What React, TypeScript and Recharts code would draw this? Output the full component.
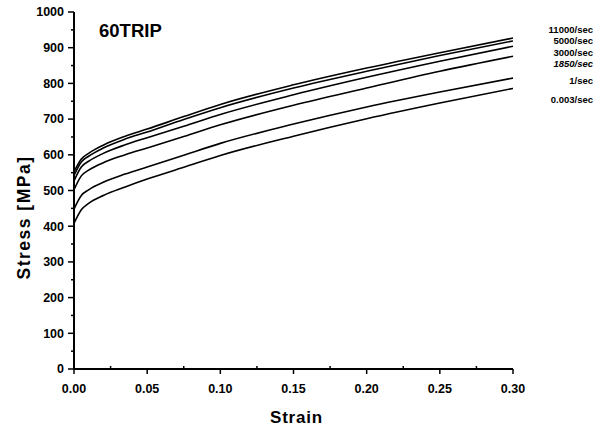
import { Label, Line, LineChart, XAxis, YAxis } from "recharts";

const strain = [0, 0.005, 0.01, 0.02, 0.035, 0.05, 0.075, 0.1, 0.15, 0.2, 0.25, 0.3];

const rate11000 = [552, 588, 604, 627, 652, 672, 707, 741, 796, 843, 886, 927];
const rate5000 = [542, 580, 596, 619, 644, 664, 699, 732, 787, 834, 878, 919];
const rate3000 = [527, 566, 582, 604, 628, 648, 680, 713, 768, 817, 862, 904];
const rate1850 = [502, 541, 557, 578, 600, 619, 651, 684, 739, 787, 834, 876];
const rate1 = [448, 486, 502, 523, 546, 566, 599, 632, 686, 734, 776, 815];
const rate0003 = [408, 446, 464, 486, 510, 532, 565, 598, 652, 701, 745, 786];

const seriesNames = ["11000/sec", "5000/sec", "3000/sec", "1850/sec", "1/sec", "0.003/sec"];
const seriesValues = [rate11000, rate5000, rate3000, rate1850, rate1, rate0003];

const xTicks = [0, 0.025, 0.05, 0.075, 0.1, 0.125, 0.15, 0.175, 0.2, 0.225, 0.25, 0.275, 0.3];
const yTicks = [
  0, 50, 100, 150, 200, 250, 300, 350, 400, 450, 500, 550, 600, 650, 700, 750, 800, 850, 900, 950,
  1000,
];

// vertical nudge of each end label from its line end, px
const LABEL_DY = [-8.5, 0, 6, 7, 3, 11];

const FONT = "'Liberation Sans', Arial, Helvetica, sans-serif";
const Y_TICK_SIZE = 6;
const Y_TICK_MARGIN = 4;
const X_TICK_SIZE = 5;
const X_TICK_MARGIN = 10;

const data = strain.map((s, i) => {
  const row: Record<string, number> = { strain: s };
  seriesNames.forEach((n, k) => {
    row[n] = seriesValues[k][i];
  });
  return row;
});

function YTick(props: any) {
  const { x, y, payload } = props;
  const v = payload.value as number;
  const major = v % 100 === 0;
  const ax = x + Y_TICK_SIZE + Y_TICK_MARGIN;
  return (
    <g>
      <line x1={ax - (major ? 6 : 3)} x2={ax} y1={y} y2={y} stroke="#000" strokeWidth={1.5} />
      {major && (
        <text
          x={x}
          y={y}
          dy="0.35em"
          textAnchor="end"
          fontFamily={FONT}
          fontWeight={700}
          fontSize={12.5}
          fill="#000"
        >
          {v}
        </text>
      )}
    </g>
  );
}

function XTick(props: any) {
  const { x, y, payload } = props;
  const v = payload.value as number;
  const major = Math.round(v * 1000) % 50 === 0;
  const ay = y - X_TICK_SIZE - X_TICK_MARGIN;
  return (
    <g>
      <line
        x1={x}
        x2={x}
        y1={ay}
        y2={major ? ay + 5 : ay - 3}
        stroke="#000"
        strokeWidth={1.5}
      />
      {major && (
        <text
          x={x}
          y={y}
          dy="0.71em"
          textAnchor="middle"
          fontFamily={FONT}
          fontWeight={700}
          fontSize={12.5}
          fill="#000"
        >
          {v.toFixed(2)}
        </text>
      )}
    </g>
  );
}

function endLabel(k: number) {
  return (props: any) => {
    const { y, index } = props;
    if (index !== strain.length - 1) return null;
    return (
      <text
        key={seriesNames[k]}
        x={593}
        y={y + LABEL_DY[k]}
        dy="0.35em"
        textAnchor="end"
        fontFamily={FONT}
        fontWeight={700}
        fontSize={9.5}
        fontStyle={k === 3 ? "italic" : "normal"}
        fill="#000"
      >
        {seriesNames[k]}
      </text>
    );
  };
}

export default function App() {
  return (
    <div style={{ position: "absolute", left: 0, top: 0, width: 595, height: 430, background: "#fff" }}>
      <div
        style={{
          position: "absolute",
          left: 99,
          top: 21,
          fontFamily: FONT,
          fontWeight: 700,
          fontSize: 18.5,
          lineHeight: "20px",
          color: "#000",
        }}
      >
        60TRIP
      </div>
      <LineChart
        width={595}
        height={430}
        data={data}
        margin={{ top: 12, right: 82, bottom: 0, left: 0 }}
      >
        <XAxis
          dataKey="strain"
          type="number"
          domain={[0, 0.3]}
          ticks={xTicks}
          interval={0}
          height={61}
          tickSize={X_TICK_SIZE}
          tickMargin={X_TICK_MARGIN}
          tickLine={false}
          tick={XTick}
          axisLine={{ stroke: "#000", strokeWidth: 2 }}
        >
          <Label
            content={({ viewBox }: any) => (
              <text
                x={viewBox.x + viewBox.width / 2 + 3}
                y={417}
                dy="0.35em"
                textAnchor="middle"
                fontFamily={FONT}
                fontWeight={700}
                fontSize={17}
                letterSpacing={0.8}
                fill="#000"
              >
                Strain
              </text>
            )}
          />
        </XAxis>
        <YAxis
          type="number"
          domain={[0, 1000]}
          ticks={yTicks}
          interval={0}
          width={74}
          tickSize={Y_TICK_SIZE}
          tickMargin={Y_TICK_MARGIN}
          tickLine={false}
          tick={YTick}
          axisLine={{ stroke: "#000", strokeWidth: 2 }}
        >
          <Label
            content={({ viewBox }: any) => {
              const cy = viewBox.y + viewBox.height / 2 + 27;
              return (
                <text
                  x={24}
                  y={cy}
                  dy="0.35em"
                  textAnchor="middle"
                  transform={`rotate(-90, 24, ${cy})`}
                  fontFamily={FONT}
                  fontWeight={700}
                  fontSize={17.5}
                  letterSpacing={1.5}
                  fill="#000"
                >
                  Stress [MPa]
                </text>
              );
            }}
          />
        </YAxis>
        {seriesNames.map((n, k) => (
          <Line
            key={n}
            dataKey={n}
            type="monotone"
            stroke="#000"
            strokeWidth={1.6}
            dot={false}
            activeDot={false}
            isAnimationActive={false}
            label={endLabel(k)}
          />
        ))}
      </LineChart>
    </div>
  );
}
